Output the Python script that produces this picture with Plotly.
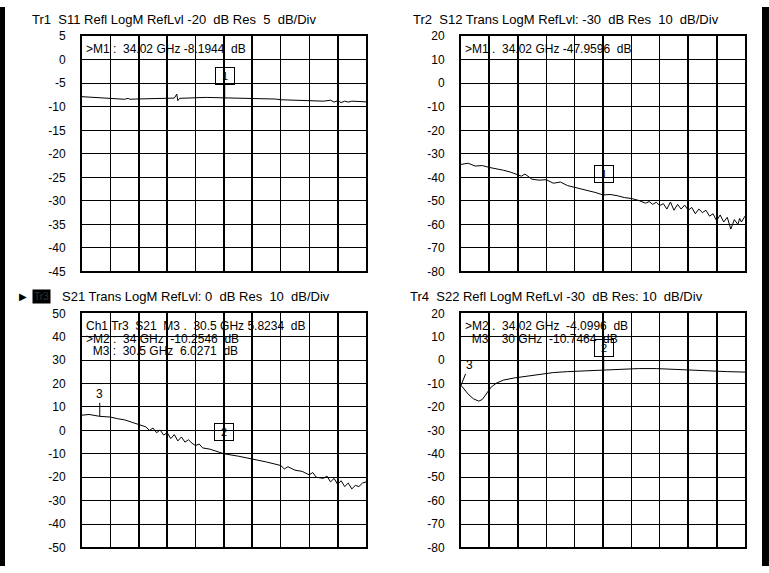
import plotly.graph_objects as go

W, H = 769, 573

# ---------------- data ----------------
grid_freqs = [30.0, 30.8, 31.6, 32.4, 33.2, 34.0, 34.8, 35.6, 36.4, 37.2, 38.0]

freq_s11 = [30.0, 30.3, 30.6, 30.9, 31.2, 31.3, 31.35, 31.5, 31.8, 32.1, 32.4, 32.6, 32.67, 32.7,
            32.75, 33.0, 33.5, 34.0, 34.5, 35.0, 35.3, 35.45, 35.6, 36.0, 36.4, 36.8, 37.0, 37.1,
            37.2, 37.3, 37.4, 37.5, 37.6, 37.8, 38.0]
s11 = [-7.85, -8.0, -8.2, -8.35, -8.4, -8.2, -8.4, -8.35, -8.3, -8.25, -8.2, -8.15, -7.3, -8.7,
       -8.2, -8.1, -8.0, -8.1, -8.15, -8.25, -8.3, -8.35, -8.5, -8.55, -8.6, -8.8, -8.6, -9.0,
       -8.7, -9.1, -8.8, -9.0, -8.8, -8.9, -8.95]

freq_s12 = [30.0, 30.2, 30.4, 30.6, 30.8, 31.0, 31.2, 31.4, 31.6, 31.7, 31.8, 32.0, 32.2, 32.4,
            32.6, 32.8, 33.0, 33.2, 33.4, 33.6, 33.8, 34.0, 34.2, 34.4, 34.6, 34.8, 35.0, 35.2,
            35.3, 35.4, 35.5, 35.6, 35.7, 35.8, 35.9, 36.0, 36.1, 36.2, 36.3, 36.4, 36.5, 36.6,
            36.7, 36.8, 36.9, 37.0, 37.1, 37.2, 37.3, 37.4, 37.5, 37.6, 37.7, 37.8, 37.85, 37.9, 38.0]
s12 = [-34.5, -34.0, -35.2, -35.0, -35.8, -36.3, -37.0, -37.8, -39.0, -39.5, -38.6, -40.8, -41.2,
       -41.0, -42.5, -42.0, -43.5, -44.2, -44.8, -45.5, -46.5, -47.5, -47.3, -47.8, -48.6, -49.0,
       -49.8, -51.0, -50.3, -51.5, -50.6, -52.0, -51.2, -53.5, -50.5, -54.0, -51.5, -53.5, -51.8,
       -54.0, -52.8, -55.5, -53.5, -55.0, -54.0, -56.5, -55.5, -58.5, -56.0, -59.0, -57.0, -62.0,
       -58.0, -60.0, -57.5, -59.0, -56.5]

freq_s21 = [30.0, 30.2, 30.5, 30.8, 31.0, 31.2, 31.4, 31.6, 31.8, 31.9, 32.0, 32.1, 32.2, 32.3,
            32.4, 32.5, 32.6, 32.7, 32.8, 32.9, 33.0, 33.1, 33.2, 33.3, 33.4, 33.6, 33.8, 34.0,
            34.4, 34.8, 35.2, 35.6, 35.7, 35.8, 36.0, 36.2, 36.4, 36.5, 36.6, 36.8, 36.9, 37.0,
            37.1, 37.2, 37.3, 37.4, 37.5, 37.6, 37.7, 37.8, 37.9, 38.0]
s21 = [6.5, 6.8, 6.0, 5.7, 5.0, 4.5, 3.5, 2.5, 1.5, 0.0, 1.0, -1.0, 0.2, -2.0, -1.0, -3.5, -1.8,
       -4.5, -2.8, -5.0, -4.0, -5.5, -6.5, -5.8, -7.5, -8.0, -9.0, -10.0, -11.0, -12.2, -13.5,
       -15.0, -16.5, -15.5, -17.0, -17.5, -19.0, -18.0, -20.0, -20.5, -19.5, -22.0, -20.5, -23.0,
       -21.5, -24.0, -22.5, -25.0, -23.5, -24.0, -22.5, -22.0]

freq_s22 = [30.0, 30.1, 30.2, 30.35, 30.5, 30.6, 30.7, 30.85, 31.0, 31.2, 31.5, 31.8, 32.2, 32.6,
            33.0, 33.5, 34.0, 34.5, 35.0, 35.5, 36.0, 36.5, 37.0, 37.5, 38.0]
s22 = [-10.7, -12.5, -14.5, -16.5, -17.5, -16.8, -14.5, -11.5, -9.8, -8.5, -7.6, -6.9, -6.0, -5.3,
       -4.9, -4.5, -4.1, -3.8, -3.6, -3.6, -4.0, -4.3, -4.6, -4.9, -5.1]

y_ticks_s11 = [5, 0, -5, -10, -15, -20, -25, -30, -35, -40, -45]
y_ticks_10 = [20, 10, 0, -10, -20, -30, -40, -50, -60, -70, -80]
y_ticks_s21 = [50, 40, 30, 20, 10, 0, -10, -20, -30, -40, -50]

titles = ["Tr1  S11 Refl LogM RefLvl -20  dB Res  5  dB/Div",
          "Tr2  S12 Trans LogM RefLvl: -30  dB Res  10  dB/Div",
          "S21 Trans LogM RefLvl: 0  dB Res  10  dB/Div",
          "Tr4  S22 Refl LogM RefLvl -30  dB Res: 10  dB/Div"]

marker_lines = [
    [">M1 :  34.02 GHz -8.1944  dB"],
    [">M1 .  34.02 GHz -47.9596  dB"],
    ["Ch1 Tr3  S21  M3 .  30.5 GHz 5.8234  dB", ">M2 :  34 GHz  -10.2546  dB", "  M3 :  30.5 GHz  6.0271  dB"],
    [">M2 .  34.02 GHz  -4.0996  dB", "  M3    30 GHz  -10.7464  dB"],
]

ref_levels = [-20, -30, 0, -30]
box_markers = [(34.02, -8.1944, "1"), (34.02, -47.9596, "1"), (34.0, -10.2546, "2"), (34.02, -4.0996, "2")]
m3 = [None, None, (30.5, 6.0271), (30.0, -10.7464)]
tri_freqs = [[34.02], [34.02], [30.5, 34.0], [30.0, 34.02]]
dash_freq = 31.5

# ---------------- layout helpers ----------------
FONT = "Liberation Sans, Arial, sans-serif"
panels = [
    dict(f=freq_s11, v=s11, yr=[-45, 5], yt=y_ticks_s11, xd=[82, 366], yd=[30, 271]),
    dict(f=freq_s12, v=s12, yr=[-80, 20], yt=y_ticks_10, xd=[461, 745], yd=[30, 271]),
    dict(f=freq_s21, v=s21, yr=[-50, 50], yt=y_ticks_s21, xd=[82, 366], yd=[314, 554]),
    dict(f=freq_s22, v=s22, yr=[-80, 20], yt=y_ticks_10, xd=[461, 745], yd=[314, 554]),
]
thick_x = [[31.6, 32.4, 34.0, 34.8, 37.2], [30.8, 31.6, 34.0, 36.4, 37.2],
           [31.6, 32.4, 34.0, 34.8, 37.2], [30.8, 31.6, 34.0, 36.4, 37.2]]

fig = go.Figure()
annotations = []
shapes = []
layout = {}

for i, p in enumerate(panels):
    n = "" if i == 0 else str(i + 1)
    xa, ya = "x" + n, "y" + n
    x0, x1 = p["xd"]
    y0, y1 = p["yd"]
    lo, hi = p["yr"]
    ppu_y = (y1 - y0) / (hi - lo)
    ppu_x = (x1 - x0) / 8.0

    layout["xaxis" + n] = dict(
        domain=[x0 / W, x1 / W], range=[30, 38], anchor=ya,
        tickmode="array", tickvals=thick_x[i], showticklabels=False, ticks="",
        showgrid=True, gridcolor="black", gridwidth=2,
        minor=dict(tickmode="array", tickvals=grid_freqs, showgrid=True, gridcolor="black", gridwidth=1),
        showline=True, linecolor="black", linewidth=2, mirror=True, zeroline=False, fixedrange=True)
    layout["yaxis" + n] = dict(
        domain=[1 - y1 / H, 1 - y0 / H], range=[lo, hi], anchor=xa,
        tickmode="array", tickvals=p["yt"], ticktext=[str(t) for t in p["yt"]],
        ticks="outside", ticklen=12, tickcolor="rgba(0,0,0,0)",
        tickfont=dict(family=FONT, size=12, color="black"),
        showgrid=True, gridcolor="black", gridwidth=1,
        showline=True, linecolor="black", linewidth=2, mirror=True, zeroline=False, fixedrange=True)

    fig.add_trace(go.Scatter(x=p["f"], y=p["v"], xaxis=xa, yaxis=ya, mode="lines",
                             line=dict(color="black", width=1), hoverinfo="skip", showlegend=False))

    ty = lo - 5 / ppu_y
    fig.add_trace(go.Scatter(x=tri_freqs[i], y=[ty] * len(tri_freqs[i]), xaxis=xa, yaxis=ya,
                             mode="markers", marker=dict(symbol="triangle-up", size=9, color="black"),
                             cliponaxis=False, showlegend=False, hoverinfo="skip"))
    dy = lo - 2 / ppu_y
    fig.add_trace(go.Scatter(x=[dash_freq], y=[dy], xaxis=xa, yaxis=ya, mode="markers",
                             marker=dict(symbol="line-ew", size=9,
                                         line=dict(color="black", width=3 if i < 2 else 1)),
                             cliponaxis=False, showlegend=False, hoverinfo="skip"))
    fig.add_trace(go.Scatter(x=[30 - 6 / ppu_x, 38 + 6 / ppu_x], y=[ref_levels[i]] * 2, xaxis=xa, yaxis=ya,
                             mode="markers",
                             marker=dict(symbol=["triangle-right", "triangle-left"], size=9, color="black"),
                             cliponaxis=False, showlegend=False, hoverinfo="skip"))

    bf, bv, bl = box_markers[i]
    annotations.append(dict(x=bf, y=bv, xref=xa, yref=ya, text=bl, showarrow=True, arrowhead=0,
                            arrowwidth=1, arrowcolor="black", ax=0, ay=-22,
                            bordercolor="black", borderwidth=1, borderpad=1, width=16, height=14,
                            bgcolor="rgba(0,0,0,0)", font=dict(family=FONT, size=11, color="black")))
    if m3[i] is not None:
        mf, mv = m3[i]
        annotations.append(dict(x=mf, y=mv, xref=xa, yref=ya, text="3", showarrow=True, arrowhead=0,
                                arrowwidth=1, arrowcolor="black", ax=0 if i == 2 else 8, ay=-22 if i == 2 else -20,
                                font=dict(family=FONT, size=12, color="black")))

    for k, line in enumerate(marker_lines[i]):
        annotations.append(dict(x=(x0 + 2) / W, y=1 - (y0 + 13 + 13 * k) / H, xref="paper", yref="paper",
                                text=line, showarrow=False, xanchor="left", yanchor="middle",
                                font=dict(family=FONT, size=12, color="black")))

title_pos = [(30, 13), (411, 13), (60, 297), (408, 297)]
for i, (tx, tyy) in enumerate(title_pos):
    annotations.append(dict(x=tx / W, y=1 - tyy / H, xref="paper", yref="paper", text=titles[i],
                            showarrow=False, xanchor="left", yanchor="middle",
                            font=dict(family=FONT, size=13, color="black")))
annotations.append(dict(x=17 / W, y=1 - 297 / H, xref="paper", yref="paper", text="▶",
                        showarrow=False, xanchor="left", yanchor="middle",
                        font=dict(family="DejaVu Sans", size=10, color="black")))
annotations.append(dict(x=32 / W, y=1 - 297 / H, xref="paper", yref="paper", text="Tr3",
                        showarrow=False, xanchor="left", yanchor="middle", bgcolor="black",
                        borderpad=1, font=dict(family=FONT, size=10, color="#333333")))

shapes.append(dict(type="rect", xref="paper", yref="paper", x0=0, x1=5 / W, y0=0, y1=1,
                   fillcolor="black", line=dict(width=0), layer="above"))
shapes.append(dict(type="rect", xref="paper", yref="paper", x0=762 / W, x1=1, y0=0, y1=1,
                   fillcolor="black", line=dict(width=0), layer="above"))

fig.update_layout(width=W, height=H, margin=dict(l=0, r=0, t=0, b=0),
                  paper_bgcolor="white", plot_bgcolor="white", showlegend=False,
                  annotations=annotations, shapes=shapes, **layout)

fig.write_html("out.html", include_plotlyjs=True, config={"displayModeBar": False},
               post_script="document.body.style.margin='0';document.body.style.padding='0';"
                           "document.body.style.overflow='hidden';")
